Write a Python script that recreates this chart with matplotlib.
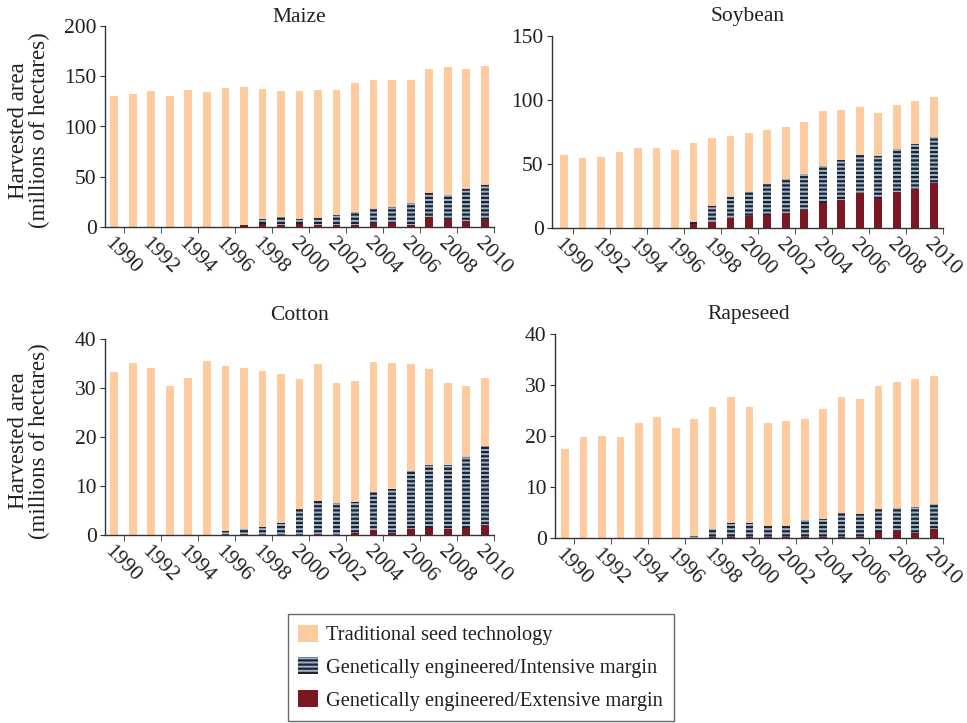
import matplotlib
matplotlib.use("Agg")
import matplotlib.pyplot as plt
from matplotlib.patches import Patch
import numpy as np

years = list(range(1990, 2011))

maize_total = [130, 132.5, 135.8, 130, 136.4, 134.8, 138.4, 139.7, 137, 135.8, 135.8,
               136.4, 136.4, 143.4, 146, 146, 146.4, 157, 159, 157, 160]
maize_ge = [0, 0, 0, 0, 0, 0, 0, 2.3, 8.3, 10.3, 8.3, 9.3, 12.3, 15.2, 18.2, 20.2,
            24.2, 34.1, 31.8, 38, 42]
maize_ext = [0, 0, 0, 0, 0, 0, 0, 2.3, 2.6, 2, 2.6, 1.7, 1.7, 2.3, 4, 4, 1.7, 9.6,
             6.6, 6.3, 7]

soy_total = [56.9, 54.5, 55.8, 59.2, 62.4, 62.4, 60.8, 66.3, 70.7, 71.7, 74.1, 76.4,
             78.8, 83.2, 91.3, 92.1, 94.7, 89.7, 96, 99.1, 102.3]
soy_ge = [0, 0, 0, 0, 0, 0, 0, 4.7, 17, 24.5, 27.9, 34.2, 38.1, 42, 48.3, 53, 57.4,
          56.4, 61.6, 65.5, 71.2]
soy_ext = [0, 0, 0, 0, 0, 0, 0, 3.1, 5, 7.8, 9.1, 10.4, 12, 14.3, 19.6, 22.2, 27.7,
           23.7, 28.4, 30.8, 35]

cotton_total = [33.2, 35.1, 34, 30.4, 32.1, 35.5, 34.5, 34.1, 33.5, 32.8, 31.9, 34.8,
                31.1, 31.5, 35.3, 35.1, 34.8, 33.8, 31.1, 30.4, 32.1]
cotton_ge = [0, 0, 0, 0, 0, 0, 0.75, 1.15, 1.56, 2.44, 5.36, 6.85, 6.6, 6.64, 8.68,
             9.42, 13.1, 14.3, 14.2, 15.9, 18.2]
cotton_ext = [0, 0, 0, 0, 0, 0, 0, 0, 0, 0, 0, 0.27, 0, 0.34, 0.95, 0.34, 1.15, 1.5,
              1.2, 1.5, 2.0]

rape_total = [17.5, 19.9, 20.0, 19.8, 22.6, 23.7, 21.6, 23.3, 25.7, 27.7, 25.7, 22.5,
              22.9, 23.4, 25.3, 27.7, 27.3, 29.9, 30.6, 31.1, 31.7]
rape_ge = [0, 0, 0, 0, 0, 0, 0, 0.46, 1.7, 2.9, 2.9, 2.4, 2.3, 3.5, 3.8, 4.9, 4.7,
           5.6, 5.8, 6.1, 6.7]
rape_ext = [0, 0, 0, 0, 0, 0, 0, 0, 0.2, 0.2, 0.2, 0.2, 0.2, 0.2, 0.2, 0.2, 0.2, 1.2,
            1.45, 1.0, 1.8]

crops = ["Maize", "Soybean", "Cotton", "Rapeseed"]
legend_labels = ["Traditional seed technology",
                 "Genetically engineered/Intensive margin",
                 "Genetically engineered/Extensive margin"]

C_TRAD = "#fdcb9e"
C_INT_BG = "#9fb4c8"
C_INT_LINE = "#1b2434"
C_EXT = "#7b1722"

plt.rcParams["font.family"] = ["Liberation Serif", "DejaVu Serif"]
plt.rcParams["hatch.linewidth"] = 1.6
TEXT = "#231f20"

fig = plt.figure(figsize=(9.67, 7.23), dpi=100)

specs = [
    ("Maize", maize_total, maize_ge, maize_ext, [105, 227, 494, 26], 200, 50, -0.5, 17),
    ("Soybean", soy_total, soy_ge, soy_ext, [552, 228, 943, 36], 150, 50, -0.65, 17),
    ("Cotton", cotton_total, cotton_ge, cotton_ext, [105, 535, 494, 339], 40, 10, -0.5, 315),
    ("Rapeseed", rape_total, rape_ge, rape_ext, [555, 538, 943, 334], 40, 10, -0.55, 315),
]

W, H = 967, 723
x = np.arange(len(years))
bw = 0.42
for idx, (name, tot, ge, ext, box, ymax, ystep, xl, ty) in enumerate(specs):
    l, b, r, t = box
    ax = fig.add_axes([l / W, (H - b) / H, (r - l) / W, (b - t) / H])
    tot = np.array(tot); ge = np.array(ge); ext = np.array(ext)
    inten = ge - ext
    trad = tot - ge
    ax.bar(x, ext, width=bw, color=C_EXT, linewidth=0)
    ax.bar(x, inten, width=bw, bottom=ext, facecolor=C_INT_BG, edgecolor=C_INT_LINE,
           hatch="----", linewidth=0)
    ax.bar(x, trad, width=bw, bottom=ge, color=C_TRAD, linewidth=0)
    ax.set_xlim(xl, 20.5)
    ax.set_ylim(0, ymax)
    ax.set_yticks(np.arange(0, ymax + 1, ystep))
    for s in ["top", "right"]:
        ax.spines[s].set_visible(False)
    for s in ["left", "bottom"]:
        ax.spines[s].set_color("#333333")
        ax.spines[s].set_linewidth(1.0)
    ax.set_xticks(x[::2])
    ax.set_xticklabels([str(y) for y in years[::2]], rotation=-45, ha="left",
                       va="top", rotation_mode="anchor")
    ax.set_xticks(np.arange(0.5, 21, 2), minor=True)
    ax.tick_params(axis="x", which="major", length=0, pad=5, labelsize=15.5,
                   labelcolor=TEXT)
    ax.tick_params(axis="x", which="minor", length=4.5, direction="out", color="#333333")
    ax.tick_params(axis="y", length=3.5, direction="out", labelsize=15.5, pad=2.5,
                   labelcolor=TEXT, color="#333333")
    fig.text((l + r) / 2 / W, 1 - ty / H, name, ha="center", va="center",
             fontsize=15.5, color=TEXT)
    if idx % 2 == 0:
        ax.set_ylabel("Harvested area\n(millions of hectares)", fontsize=16.5,
                      color=TEXT, linespacing=1.0)
        ax.yaxis.set_label_coords(-0.141, 0.48)

handles = [Patch(facecolor=C_TRAD, linewidth=0),
           Patch(facecolor=C_INT_BG, edgecolor=C_INT_LINE, hatch="----", linewidth=0),
           Patch(facecolor=C_EXT, linewidth=0)]
leg = fig.legend(handles, legend_labels, loc="lower center",
                 bbox_to_anchor=(0.497, 0.003), fontsize=14.7, frameon=True,
                 fancybox=False, edgecolor="#444444", handlelength=1.0,
                 handleheight=0.9, handletextpad=0.4, borderpad=0.5,
                 labelspacing=0.6, labelcolor=TEXT, borderaxespad=0)
leg.get_frame().set_linewidth(1.0)

fig.savefig("out.png", dpi=100)
